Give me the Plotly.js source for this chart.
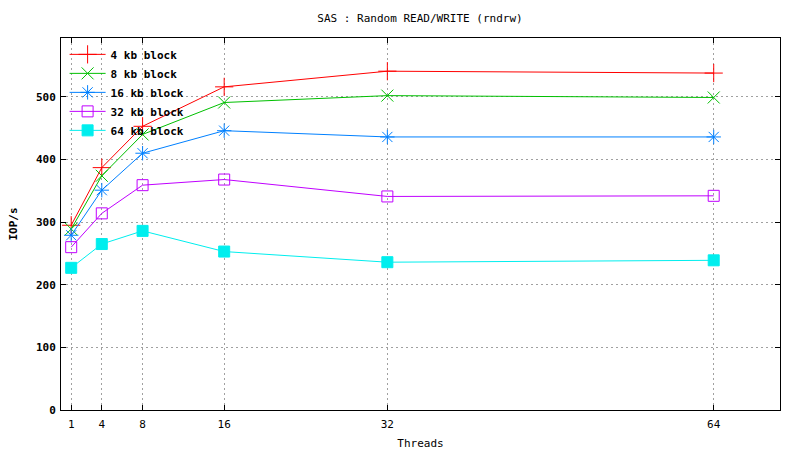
<!DOCTYPE html>
<html>
<head>
<meta charset="utf-8">
<script src="https://cdn.plot.ly/plotly-3.0.1.min.js"></script>
<style>html,body{margin:0;padding:0;background:#fff}#chart{width:800px;height:450px}</style>
</head>
<body>
<div id="chart"></div>
<script>
const threads = [1, 4, 8, 16, 32, 64];
const seriesNames = ["4 kb block", "8 kb block", "16 kb block", "32 kb block", "64 kb block"];
const iops4kb  = [295, 387, 453, 516, 541, 538];
const iops8kb  = [289, 374, 440, 491, 502, 499];
const iops16kb = [279, 351, 410, 446, 436, 436];
const iops32kb = [260, 314, 359, 368, 341, 342];
const iops64kb = [227, 265, 286, 253, 236, 239];
const yTicks = [0, 100, 200, 300, 400, 500];

const colors = ["#ff0000", "#00c000", "#0080ff", "#c000ff", "#00eeee"];
const symbols = ["cross-thin-open", "x-thin-open", "asterisk-open", "square-open", "square"];
const sizes = [13, 12, 12, 11, 11];
const allSeries = [iops4kb, iops8kb, iops16kb, iops32kb, iops64kb];

const FONT = "DejaVu Sans Mono, Liberation Mono, monospace";

const traces = allSeries.map((ys, i) => ({
  x: threads, y: ys, name: seriesNames[i], type: "scatter", mode: "lines+markers",
  line: {color: colors[i], width: 1},
  marker: {symbol: symbols[i], size: sizes[i], color: colors[i], line: {color: colors[i], width: 1}}
}));

const layout = {
  width: 800, height: 450,
  margin: {l: 61, r: 20, t: 38, b: 40},
  paper_bgcolor: "#ffffff", plot_bgcolor: "#ffffff",
  font: {family: FONT, size: 11, color: "#000"},
  title: {text: "SAS : Random READ/WRITE (rndrw)", x: 0.525, xanchor: "center", y: 0.96, yanchor: "middle",
          font: {family: FONT, size: 11, color: "#000"}},
  showlegend: true,
  legend: {x: 0.005, y: 0.995, xanchor: "left", yanchor: "top", bgcolor: "rgba(255,255,255,0)",
           font: {family: FONT, size: 11, color: "#000", weight: "bold"}, tracegroupgap: 0, itemwidth: 36},
  xaxis: {
    range: [0, 70.5], tickmode: "array", tickvals: threads, ticktext: threads.map(String),
    showgrid: true, gridcolor: "#a0a0a0", griddash: "2px,3px", gridwidth: 1,
    zeroline: false, showline: true, linecolor: "#000", linewidth: 1, mirror: "ticks",
    ticks: "inside", ticklen: 5, tickcolor: "#000", ticklabelstandoff: 4,
    tickfont: {family: FONT, size: 11, color: "#000"},
    title: {text: "Threads", font: {family: FONT, size: 11, color: "#000"}, standoff: 10}
  },
  yaxis: {
    range: [0, 594], tickmode: "array", tickvals: yTicks, ticktext: yTicks.map(String),
    showgrid: true, gridcolor: "#a0a0a0", griddash: "2px,3px", gridwidth: 1,
    zeroline: false, showline: true, linecolor: "#000", linewidth: 1, mirror: "ticks",
    ticks: "inside", ticklen: 5, tickcolor: "#000", ticklabelstandoff: 2,
    tickfont: {family: FONT, size: 11, color: "#000", weight: "bold"},
    title: {text: "IOP/s", font: {family: FONT, size: 11, color: "#000", weight: "bold"}, standoff: 16}
  }
};

Plotly.newPlot("chart", traces, layout, {staticPlot: true, displayModeBar: false});
</script>
</body>
</html>
